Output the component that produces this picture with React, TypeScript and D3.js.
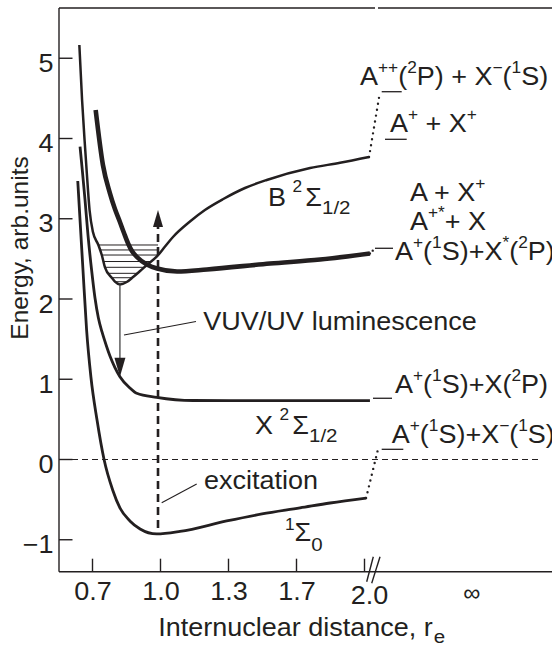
import React from 'react';
import * as d3 from 'd3';

const W = 552;
const H = 646;
const INK = '#231f20';
const FONT = '"Liberation Sans", Arial, Helvetica, sans-serif';
const SX = 1.08;

// axis ticks
const xTicks = [0.7, 1.0, 1.3, 1.7, 2.0];
const xTickLabels = ['0.7', '1.0', '1.3', '1.7', '2.0'];
const yTicks = [-1, 0, 1, 2, 3, 4, 5];
const yTickLabels = ['\u22121', '0', '1', '2', '3', '4', '5'];

// curves: [internuclear distance, energy]
const groundCurve: [number, number][] = [
  [0.635, 3.47], [0.645, 2.984], [0.658, 2.361], [0.674, 1.614], [0.693, 1.028],
  [0.72, 0.492], [0.751, 0.0], [0.789, -0.38], [0.821, -0.604], [0.865, -0.766],
  [0.91, -0.866], [0.983, -0.928], [1.086, -0.897], [1.292, -0.766], [1.497, -0.679],
  [1.715, -0.604], [1.848, -0.542], [2.007, -0.48],
];
const xStateCurve: [number, number][] = [
  [0.645, 3.898], [0.655, 3.607], [0.667, 3.234], [0.68, 2.798], [0.696, 2.361],
  [0.711, 2.012], [0.726, 1.763], [0.742, 1.589], [0.76, 1.427], [0.777, 1.29],
  [0.799, 1.146], [0.821, 1.032], [0.865, 0.891], [0.895, 0.825], [0.983, 0.775],
  [1.143, 0.735], [1.485, 0.733], [2.024, 0.733],
];
const bStateCurve: [number, number][] = [
  [0.642, 5.165], [0.654, 4.48], [0.665, 3.981], [0.674, 3.607], [0.687, 3.109],
  [0.702, 2.835], [0.726, 2.673], [0.741, 2.548], [0.755, 2.395], [0.785, 2.265],
  [0.799, 2.216], [0.821, 2.181], [0.851, 2.212], [0.879, 2.274], [0.91, 2.349],
  [0.945, 2.436], [0.983, 2.527], [1.02, 2.654], [1.056, 2.776], [1.13, 2.966],
  [1.196, 3.109], [1.277, 3.246], [1.397, 3.383], [1.525, 3.483], [1.76, 3.632],
  [1.892, 3.697], [2.02, 3.769],
];
const thickCurve: [number, number][] = [
  [0.714, 4.355], [0.746, 3.67], [0.777, 3.317], [0.799, 3.121], [0.821, 2.96],
  [0.839, 2.822], [0.857, 2.692], [0.874, 2.598], [0.896, 2.523], [0.94, 2.43],
  [0.985, 2.38], [1.073, 2.343], [1.205, 2.368], [1.544, 2.442], [1.804, 2.492],
  [2.024, 2.567],
];
// vibrational levels in the B well
const vibLevels = [2.673, 2.611, 2.548, 2.467, 2.395, 2.32, 2.265, 2.215];
// luminescence arrow [r, from E, to E]
const lumArrow = [0.821, 2.181, 1.032];
// excitation arrow [r, from E, to E]
const excArrow = [0.989, -0.928, 3.109];
// asymptote levels (energies of the level markers)
const asymLevels = [4.583, 3.99, 2.632, 0.763, 0.127];

type Seg = { t: string; k?: 'u' | 'd'; s?: number; sh?: number; dx?: number };

function Rich({ x, y, segs, size = 25, anchor = 'start', sx = SX }: {
  x: number; y: number; segs: Seg[]; size?: number; anchor?: string; sx?: number;
}) {
  let cur = 0;
  return (
    <g transform={`translate(${x},${y}) scale(${sx},1)`}>
      <text x={0} y={0} fontSize={size} textAnchor={anchor} fill={INK} fontFamily={FONT}
        style={{ whiteSpace: 'pre' }}>
        {segs.map((s, i) => {
          const target = s.k === 'u' ? (s.sh ?? -12) : s.k === 'd' ? (s.sh ?? 8) : 0;
          const dy = target - cur;
          cur = target;
          const fs = s.k ? size * (s.s ?? 0.64) : size;
          return <tspan key={i} dy={dy} dx={s.dx ?? 0} fontSize={fs}>{s.t}</tspan>;
        })}
      </text>
    </g>
  );
}

const P = (t: string): Seg => ({ t });
const U = (t: string): Seg => ({ t, k: 'u' });

export default function App() {
  const x = d3.scaleLinear().domain(xTicks).range([92.5, 160.5, 228.5, 296.5, 364.5]);
  const y = d3.scaleLinear().domain([-1, 5]).range([539.75, 58.25]);
  const line = d3.line<[number, number]>().x(d => x(d[0])).y(d => y(d[1])).curve(d3.curveMonotoneX);

  const X0 = 59;
  const YB = 571.7;
  const YT = 8;

  // vibrational level extents
  const bMinIdx = bStateCurve.reduce((m, d, i) => (d[1] < bStateCurve[m][1] ? i : m), 0);
  const cross = (E: number, left: boolean) => {
    const pts = left ? bStateCurve.slice(0, bMinIdx + 1) : bStateCurve.slice(bMinIdx);
    for (let i = 0; i < pts.length - 1; i++) {
      const [r0, e0] = pts[i];
      const [r1, e1] = pts[i + 1];
      if ((E - e0) * (E - e1) <= 0 && e0 !== e1) {
        return r0 + ((E - e0) / (e1 - e0)) * (r1 - r0);
      }
    }
    return pts[0][0];
  };

  const lx = x(lumArrow[0]);
  const lTop = y(lumArrow[1]);
  const lTip = y(lumArrow[2]);
  const ex = x(excArrow[0]);
  const eBot = y(excArrow[1]);
  const eTip = y(excArrow[2]);

  const gEnd = groundCurve[groundCurve.length - 1];
  const bEnd = bStateCurve[bStateCurve.length - 1];
  const tEnd = thickCurve[thickCurve.length - 1];

  return (
    <svg width={W} height={H} style={{ position: 'absolute', left: 0, top: 0, background: '#fff' }}
      fontFamily={FONT}>
      <rect x={0} y={0} width={W} height={H} fill="#fff" />
      {/* frame */}
      <line x1={X0} y1={YT} x2={X0} y2={YB} stroke={INK} strokeWidth={1.4} />
      <line x1={X0} y1={YB} x2={W} y2={YB} stroke={INK} strokeWidth={1.4} />
      <line x1={X0} y1={YT} x2={375} y2={YT} stroke={INK} strokeWidth={1.4} />
      <line x1={378} y1={YT} x2={W} y2={YT} stroke={INK} strokeWidth={1.4} />

      {/* y ticks */}
      {yTicks.map((t, i) => (
        <g key={t}>
          <line x1={X0} x2={X0 + 13.5} y1={y(t)} y2={y(t)} stroke={INK} strokeWidth={1.4} />
          <Rich x={53.5} y={y(t) + 13.5} anchor="end" segs={[P(yTickLabels[i])]} />
        </g>
      ))}
      {/* x ticks */}
      {xTicks.map((t, i) => (
        <g key={t}>
          <line x1={x(t)} x2={x(t)} y1={YB} y2={YB - 13} stroke={INK} strokeWidth={1.4} />
          <Rich x={x(t) + (i === 4 ? 5 : 0.5)} y={i === 4 ? 603.5 : 600} anchor="middle"
            segs={[P(xTickLabels[i])]} />
        </g>
      ))}
      {/* axis break */}
      <line x1={366.7} y1={581.7} x2={373.3} y2={556.7} stroke={INK} strokeWidth={1.4} />
      <line x1={371.7} y1={583.3} x2={380} y2={556.7} stroke={INK} strokeWidth={1.4} />
      <text x={471.7} y={601} fontSize={24} textAnchor="middle" fill={INK}>∞</text>

      {/* axis titles */}
      <Rich x={158.3} y={636} segs={[P('Internuclear distance, r'), { t: 'e', k: 'd', s: 0.76, sh: 7, dx: 1 }]} />
      <text transform="translate(28,248) rotate(-90)" fontSize={24.5} textAnchor="middle" fill={INK}>
        Energy, arb.units
      </text>

      {/* zero level */}
      <line x1={62} x2={540} y1={y(0)} y2={y(0)} stroke={INK} strokeWidth={1.2} strokeDasharray="6 4" />

      {/* vibrational levels */}
      {vibLevels.map(E => {
        const a = x(cross(E, true));
        const b = Math.min(x(cross(E, false)), ex);
        return <line key={E} x1={a} x2={b} y1={y(E)} y2={y(E)} stroke={INK} strokeWidth={1} />;
      })}

      {/* curves */}
      <path d={line(groundCurve) || ''} fill="none" stroke={INK} strokeWidth={2.8} />
      <path d={line(xStateCurve) || ''} fill="none" stroke={INK} strokeWidth={2.8} />
      <path d={line(bStateCurve) || ''} fill="none" stroke={INK} strokeWidth={2.5} />
      <path d={line(thickCurve) || ''} fill="none" stroke={INK} strokeWidth={4.6} />

      {/* luminescence arrow */}
      <line x1={lx} x2={lx} y1={lTop} y2={lTip - 16} stroke="#444" strokeWidth={1.3} />
      <path d={`M${lx},${lTip} L${lx - 5.5},${lTip - 19} L${lx + 5.5},${lTip - 19} Z`} fill={INK} />

      {/* excitation arrow */}
      <line x1={ex} x2={ex} y1={eBot - 6} y2={eTip + 16} stroke={INK} strokeWidth={2.6} strokeDasharray="8 5" />
      <path d={`M${ex},${eTip} L${ex - 5},${eTip + 17} L${ex + 5},${eTip + 17} Z`} fill={INK} />

      {/* dotted connectors to asymptotes */}
      <line x1={x(bEnd[0])} y1={y(bEnd[1])} x2={379.5} y2={y(asymLevels[0]) + 3} stroke={INK}
        strokeWidth={2.4} strokeDasharray="0 6" strokeLinecap="round" />
      <line x1={x(tEnd[0])} y1={y(tEnd[1])} x2={375} y2={y(asymLevels[2])} stroke={INK}
        strokeWidth={2.4} strokeDasharray="0 4" strokeLinecap="round" />
      <line x1={x(gEnd[0])} y1={y(gEnd[1])} x2={377.5} y2={y(asymLevels[4]) + 2} stroke={INK}
        strokeWidth={2.4} strokeDasharray="0 6" strokeLinecap="round" />

      {/* asymptote level markers */}
      <line x1={381.7} x2={401.7} y1={y(asymLevels[0])} y2={y(asymLevels[0])} stroke={INK} strokeWidth={1.3} />
      <line x1={385} x2={406.7} y1={y(asymLevels[1])} y2={y(asymLevels[1])} stroke={INK} strokeWidth={1.3} />
      <line x1={375} x2={393} y1={y(asymLevels[2])} y2={y(asymLevels[2])} stroke={INK} strokeWidth={1.3} />
      <line x1={373} x2={392} y1={y(asymLevels[3])} y2={y(asymLevels[3])} stroke={INK} strokeWidth={1.3} />
      <line x1={381.7} x2={403.3} y1={y(asymLevels[4])} y2={y(asymLevels[4])} stroke={INK} strokeWidth={1.3} />

      {/* asymptote labels */}
      <Rich x={360} y={85} segs={[P('A'), U('++'), P('('), U('2'), P('P) + X'), U('\u2212'), P('('), U('1'), P('S)')]} />
      <Rich x={390} y={131.7} segs={[P('A'), U('+'), P(' + X'), U('+')]} />
      <Rich x={410} y={200.7} segs={[P('A + X'), U('+')]} />
      <Rich x={410} y={230} segs={[P('A'), U('+*'), P('+ X')]} />
      <Rich x={395} y={260} segs={[P('A'), U('+'), P('('), U('1'), P('S)+X'), U('*'), P('('), U('2'), P('P)')]} />
      <Rich x={395} y={393.3} segs={[P('A'), U('+'), P('('), U('1'), P('S)+X('), U('2'), P('P)')]} />
      <Rich x={391.7} y={443.3} segs={[P('A'), U('+'), P('('), U('1'), P('S)+X'), U('\u2212'), P('('), U('1'), P('S)')]} />

      {/* state labels */}
      <Rich x={268} y={206} segs={[P('B'), { t: '2', k: 'u', s: 0.64, sh: -14, dx: 6 }, { t: 'Σ', dx: 3 }, { t: '1/2', k: 'd', s: 0.76, sh: 7.7 }]} />
      <Rich x={255} y={434} segs={[P('X'), { t: '2', k: 'u', s: 0.64, sh: -14, dx: 6 }, { t: 'Σ', dx: 3 }, { t: '1/2', k: 'd', s: 0.76, sh: 7.7 }]} />
      <Rich x={285} y={541} segs={[{ t: '1', k: 'u', s: 0.64, sh: -11 }, { t: 'Σ' }, { t: '0', k: 'd', s: 0.76, sh: 10 }]} />

      {/* annotations */}
      <line x1={124} y1={335} x2={196} y2={321.5} stroke={INK} strokeWidth={1.1} />
      <Rich x={203.3} y={330} segs={[P('VUV/UV')]} />
      <Rich x={311.7} y={330} segs={[P('luminescence')]} />
      <line x1={161.7} y1={502.7} x2={196.7} y2={484} stroke={INK} strokeWidth={1.1} />
      <Rich x={204} y={489.3} segs={[P('excitation')]} />
    </svg>
  );
}
